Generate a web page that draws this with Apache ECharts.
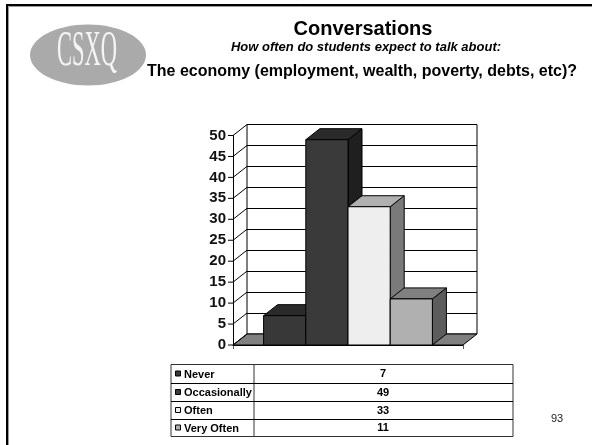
<!DOCTYPE html>
<html><head><meta charset="utf-8">
<style>html,body{margin:0;padding:0;background:#fff}#c{width:592px;height:445px}</style>
<script src="https://cdn.jsdelivr.net/npm/echarts@6/dist/echarts.min.js"></script>
</head><body><div id="c"></div>
<script>
const categories = ['Never', 'Occasionally', 'Often', 'Very Often'];
const values = [7, 49, 33, 11];
const yTicks = [0, 5, 10, 15, 20, 25, 30, 35, 40, 45, 50];
const frontColors = ['#383838', '#3a3a3a', '#eeeeee', '#b0b0b0'];
const topColors = ['#2a2a2a', '#2a2a2a', '#b0b0b0', '#808080'];
const sideColors = ['#1f1f1f', '#1f1f1f', '#7a7a7a', '#5c5c5c'];

const DX = 14, DY = -11, BARW = 42.2;
const font = 'Liberation Sans, Arial, sans-serif';
const chart = echarts.init(document.getElementById('c'), null, {renderer: 'canvas'});
const edge = {stroke: '#000', lineWidth: 1};

function poly(points, fill) {
  return {type: 'polygon', shape: {points}, style: Object.assign({fill}, edge)};
}
function renderWall(params, api) {
  const v = api.value(0);
  const p = api.coord([0, v]);
  const w = api.size([1, 0])[0];
  const x0 = api.coord([0, 0])[0] - w / 2;
  const out = [{type: 'line', shape: {x1: x0, y1: p[1], x2: x0 + DX, y2: p[1] + DY}, style: {stroke: '#000', lineWidth: 1}},
               {type: 'line', shape: {x1: x0 - 5, y1: p[1], x2: x0, y2: p[1]}, style: {stroke: '#000', lineWidth: 1}}];
  if (v === 0) {
    out.unshift(poly([[x0, p[1]], [x0 + DX, p[1] + DY], [x0 + w + DX, p[1] + DY], [x0 + w, p[1]]], '#808080'));
  }
  return {type: 'group', children: out};
}
function renderBar(i) {
  return function (params, api) {
    const v = api.value(1);
    const c = api.coord([0, v]);
    const y0 = api.coord([0, 0])[1];
    const x = c[0] + (i - 2) * BARW, xr = x + BARW, y = c[1];
    return {type: 'group', children: [
      poly([[xr, y], [xr + DX, y + DY], [xr + DX, y0 + DY], [xr, y0]], sideColors[i]),
      poly([[x, y], [x + DX, y + DY], [xr + DX, y + DY], [xr, y]], topColors[i]),
      poly([[x, y], [xr, y], [xr, y0], [x, y0]], frontColors[i])
    ]};
  };
}
const barSeries = categories.map((name, i) => ({
  type: 'custom', name, xAxisIndex: 0, yAxisIndex: 0, z: 5 + i, clip: false,
  data: [[0, values[i]]], renderItem: renderBar(i), encode: {x: 0, y: 1}
}));

const T = {l: 171, r: 513, m: 254, rows: [364.5, 383.5, 401.5, 419.5, 436.5]};
const g = [];
g.push({type: 'rect', shape: {x: 7, y: 5, width: 600, height: 460}, style: {fill: 'none', stroke: '#000', lineWidth: 2}, z: 20});
g.push({type: 'rect', shape: {x: 8.5, y: 6.5, width: 600, height: 460}, style: {fill: 'none', stroke: '#999', lineWidth: 1}, z: 19});
g.push({type: 'ellipse', shape: {cx: 88, cy: 55, rx: 58, ry: 30.5}, style: {fill: '#aaaaaa'}, z: 20});
g.push({type: 'text', x: 87, y: 52, scaleX: 0.45, style: {text: 'CSXQ', font: '50px Liberation Serif, serif', fill: '#f4f4f4', align: 'center', verticalAlign: 'middle'}, z: 21});
g.push({type: 'text', x: 363, y: 29, style: {text: 'Conversations', font: 'bold 20px ' + font, fill: '#000', align: 'center', verticalAlign: 'middle'}, z: 21});
g.push({type: 'text', x: 366, y: 47.5, style: {text: 'How often do students expect to talk about:', font: 'italic bold 13px ' + font, fill: '#000', align: 'center', verticalAlign: 'middle'}, z: 21});
g.push({type: 'text', x: 147, y: 72, style: {text: 'The economy (employment, wealth, poverty, debts, etc)?', font: 'bold 16px ' + font, fill: '#000', align: 'left', verticalAlign: 'middle'}, z: 21});
g.push({type: 'text', x: 557, y: 419, style: {text: '93', font: '11px ' + font, fill: '#222', align: 'center', verticalAlign: 'middle'}, z: 21});
g.push({type: 'rect', shape: {x: T.l, y: T.rows[0], width: T.r - T.l, height: T.rows[4] - T.rows[0]}, style: {fill: '#fff', stroke: '#333', lineWidth: 1}, z: 20});
g.push({type: 'line', shape: {x1: T.m, y1: T.rows[0], x2: T.m, y2: T.rows[4]}, style: {stroke: '#333', lineWidth: 1}, z: 21});
categories.forEach((name, i) => {
  const y1 = T.rows[i], y2 = T.rows[i + 1], my = (y1 + y2) / 2;
  if (i) g.push({type: 'line', shape: {x1: T.l, y1, x2: T.r, y2: y1}, style: {stroke: '#000', lineWidth: 1}, z: 21});
  g.push({type: 'rect', shape: {x: 175.5, y: my - 3, width: 5, height: 5}, style: {fill: frontColors[i], stroke: '#000', lineWidth: 1}, z: 21});
  g.push({type: 'text', x: 184, y: my + 0.5, style: {text: name, font: 'bold 11px ' + font, fill: '#000', align: 'left', verticalAlign: 'middle'}, z: 21});
  g.push({type: 'text', x: 383, y: my, style: {text: String(values[i]), font: 'bold 11px ' + font, fill: '#000', align: 'center', verticalAlign: 'middle'}, z: 21});
});

chart.setOption({
  animation: false,
  backgroundColor: '#fff',
  grid: [
    {left: 233, top: 135.5, width: 230, height: 209.5, show: false},
    {left: 247, top: 124.5, width: 230, height: 209.5, show: true, borderColor: '#000', borderWidth: 1, backgroundColor: '#fff'}
  ],
  xAxis: [
    {type: 'category', gridIndex: 0, data: [''], axisLine: {lineStyle: {color: '#000'}}, axisTick: {show: true, length: 4, inside: false, lineStyle: {color: '#555'}}, axisLabel: {show: false}},
    {type: 'category', gridIndex: 1, data: [''], show: false}
  ],
  yAxis: [
    {type: 'value', gridIndex: 0, min: 0, max: 50, interval: 5,
     axisLine: {show: true, lineStyle: {color: '#000'}}, axisTick: {show: false},
     splitLine: {show: false},
     axisLabel: {margin: 7, color: '#111', fontFamily: font, fontWeight: 'bold', fontSize: 15}},
    {type: 'value', gridIndex: 1, min: 0, max: 50, interval: 5, axisLine: {show: false}, axisTick: {show: false}, axisLabel: {show: false},
     splitLine: {show: true, lineStyle: {color: '#000', width: 1}}}
  ],
  series: [
    {type: 'custom', xAxisIndex: 0, yAxisIndex: 0, z: 3, clip: false, silent: true,
     data: yTicks.map(v => [v]), renderItem: renderWall, encode: {y: 0}},
    ...barSeries
  ],
  graphic: {elements: g}
});
</script></body></html>
